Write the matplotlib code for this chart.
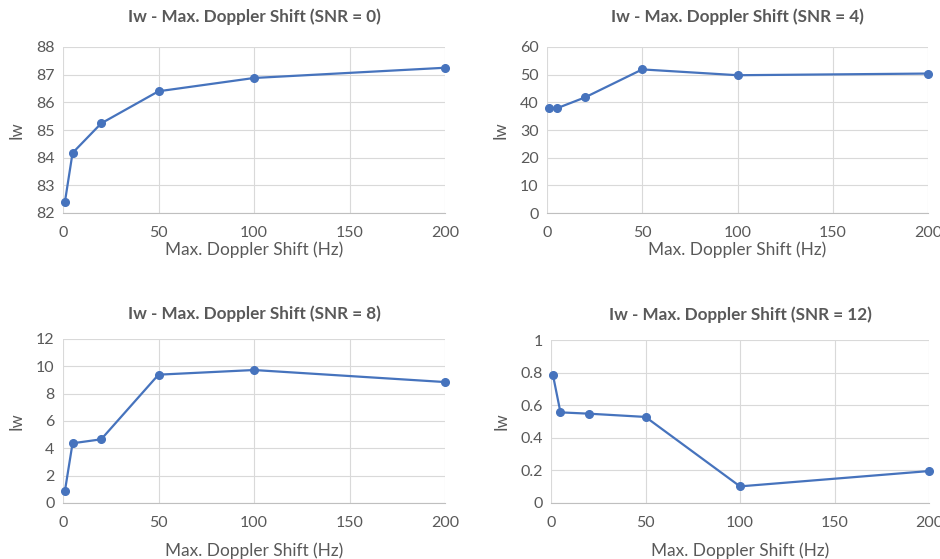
import matplotlib
matplotlib.use("Agg")
from matplotlib import pyplot as plt

plt.rcParams['font.family'] = ['Lato', 'DejaVu Sans']

doppler = [1, 5, 20, 50, 100, 200]
iw_snr0 = [82.40, 84.17, 85.24, 86.40, 86.88, 87.25]
iw_snr4 = [37.8, 37.8, 41.8, 51.9, 49.8, 50.4]
iw_snr8 = [0.88, 4.37, 4.66, 9.39, 9.73, 8.85]
iw_snr12 = [0.787, 0.556, 0.548, 0.528, 0.102, 0.196]

titles = ["Iw - Max. Doppler Shift (SNR = 0)", "Iw - Max. Doppler Shift (SNR = 4)",
          "Iw - Max. Doppler Shift (SNR = 8)", "Iw - Max. Doppler Shift (SNR = 12)"]
series = [iw_snr0, iw_snr4, iw_snr8, iw_snr12]
xticks = [0, 50, 100, 150, 200]
yticks = [[82, 83, 84, 85, 86, 87, 88],
          [0, 10, 20, 30, 40, 50, 60],
          [0, 2, 4, 6, 8, 10, 12],
          [0, 0.2, 0.4, 0.6, 0.8, 1]]
ylabels = [["82", "83", "84", "85", "86", "87", "88"],
           ["0", "10", "20", "30", "40", "50", "60"],
           ["0", "2", "4", "6", "8", "10", "12"],
           ["0", "0.2", "0.4", "0.6", "0.8", "1"]]

W, H = 940, 559
# axes boxes in pixels: left, top, right, bottom
boxes = [(63, 47, 445, 213), (547, 47, 928, 213),
         (63, 339, 445, 503), (551, 340, 929, 503)]

grey = '#595959'
blue = '#4673BD'

fig = plt.figure(figsize=(W / 100, H / 100), dpi=100)

for i in range(4):
    l, t, r, b = boxes[i]
    top_row = i < 2
    ax = fig.add_axes([l / W, (H - b) / H, (r - l) / W, (b - t) / H])
    ax.plot(doppler, series[i], color=blue, lw=1.6, marker='o', ms=5.5, clip_on=False, zorder=3)
    ax.set_xlim(0, 200)
    ax.set_ylim(yticks[i][0], yticks[i][-1])
    ax.set_xticks(xticks)
    ax.set_xticklabels([str(x) for x in xticks])
    ax.set_yticks(yticks[i])
    ax.set_yticklabels(ylabels[i])
    ax.grid(True, color='#d9d9d9', lw=0.8)
    ax.set_axisbelow(True)
    for s in ['top', 'right', 'left']:
        ax.spines[s].set_visible(False)
    ax.spines['bottom'].set_color('#bfbfbf')
    ax.tick_params(length=0, labelsize=11.5, labelcolor=grey, pad=6)
    ax.tick_params(axis='x', pad=9.5)
    ax.set_title(titles[i], fontsize=12.3, fontweight='bold', color=grey,
                 pad=18 if top_row else 14.5)
    ax.set_xlabel("Max. Doppler Shift (Hz)", fontsize=12.4, color=grey,
                  labelpad=1 if top_row else 8.5)
    ax.set_ylabel("Iw", fontsize=12, color=grey, labelpad=8)

fig.savefig("out.png", dpi=100, facecolor='white')
